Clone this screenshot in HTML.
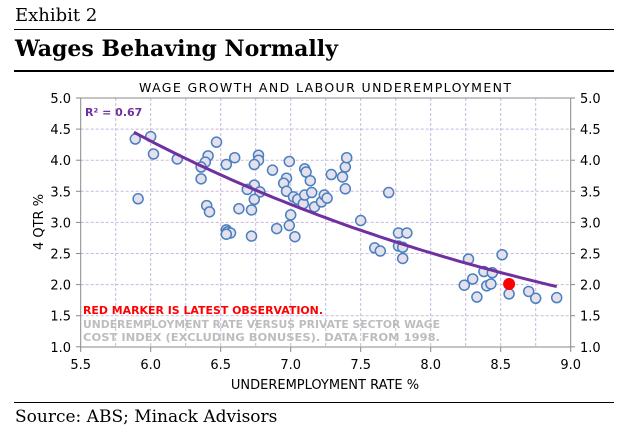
<!DOCTYPE html>
<html><head><meta charset="utf-8"><style>
body{margin:0;background:#fff;width:628px;height:441px;overflow:hidden;position:relative;font-family:"DejaVu Sans",sans-serif}
.serif{font-family:"DejaVu Serif","Liberation Serif",serif;position:absolute;color:#000;white-space:nowrap}
.hr{position:absolute;left:14px;width:600px;background:#000}
</style></head><body>
<div class="serif" style="left:15px;top:5px;font-size:18px">Exhibit 2</div>
<div class="hr" style="top:29px;height:1px"></div>
<div class="serif" style="left:15px;top:36px;font-size:22px;font-weight:bold">Wages Behaving Normally</div>
<div class="hr" style="top:70px;height:2px"></div>
<div class="hr" style="top:402px;height:1px"></div>
<div class="serif" style="left:15px;top:407px;font-size:17px">Source: ABS; Minack Advisors</div>
<svg id="chart" width="628" height="441" style="position:absolute;left:0;top:0" font-family="DejaVu Sans, sans-serif"></svg>
<script>
const xTicks=[5.5,6.0,6.5,7.0,7.5,8.0,8.5,9.0];
const yTicks=[1.0,1.5,2.0,2.5,3.0,3.5,4.0,4.5,5.0];
const underemp=[5.89,6.00,6.02,5.91,6.19,6.47,6.41,6.39,6.36,6.36,6.40,6.42,6.54,6.60,6.54,6.55,6.57,6.54,6.63,6.77,6.77,6.74,6.87,6.74,6.69,6.78,6.74,6.72,6.72,6.90,6.99,6.97,6.95,6.97,7.02,7.05,7.09,7.00,6.99,7.03,7.10,7.11,7.14,7.10,7.15,7.17,7.22,7.24,7.26,7.29,7.37,7.39,7.40,7.39,7.70,7.50,7.60,7.64,7.77,7.83,7.77,7.80,7.80,8.27,8.24,8.30,8.33,8.38,8.44,8.40,8.43,8.51,8.56,8.70,8.75,8.90];
const wages=[4.34,4.38,4.10,3.38,4.02,4.29,4.07,3.97,3.89,3.70,3.27,3.17,3.93,4.04,2.88,2.85,2.83,2.81,3.22,4.08,4.00,3.93,3.84,3.60,3.53,3.49,3.37,3.20,2.78,2.90,3.98,3.71,3.63,3.50,3.41,3.37,3.30,3.12,2.95,2.77,3.86,3.81,3.67,3.44,3.48,3.25,3.33,3.44,3.39,3.77,3.73,3.89,4.04,3.54,3.48,3.03,2.59,2.54,2.83,2.83,2.62,2.60,2.42,2.41,1.99,2.09,1.80,2.21,2.19,1.98,2.01,2.48,1.85,1.89,1.78,1.79];
const latest=[8.56,2.01];
const trendCoef=[4.45,-0.27,5.88]; // y = a*exp(b*(x-x0))
const trendRange=[5.88,8.90];
const X=v=>80.7+(v-5.5)*140, Y=v=>98+(5-v)*62.2;
const svg=document.getElementById('chart'),NS='http://www.w3.org/2000/svg';
function mk(t,a,txt){const e=document.createElementNS(NS,t);for(const k in a)e.setAttribute(k,a[k]);if(txt!=null)e.textContent=txt;svg.appendChild(e);return e;}
for(let v=5.75;v<9;v+=0.25){const g=mk('line',{x1:X(v),x2:X(v),y1:98,y2:347,stroke:'#c9b8dc','stroke-dasharray':'3,2'});}
for(let v=1.5;v<5;v+=0.5){const g=mk('line',{x1:80.7,x2:570.7,y1:Y(v),y2:Y(v),stroke:'#c9b8dc','stroke-dasharray':'3,2'});}
let e=mk('rect',{x:80.7,y:98,width:490,height:249,fill:'none',stroke:'#888'});
xTicks.forEach(v=>{const t=mk('text',{x:X(v),y:369,'text-anchor':'middle','font-size':13},v.toFixed(1));mk('line',{x1:X(v),x2:X(v),y1:347,y2:352,stroke:'#888'});});
yTicks.forEach(v=>{const t=mk('text',{x:71,y:Y(v)+5,'text-anchor':'end','font-size':13},v.toFixed(1));const r=mk('text',{x:580,y:Y(v)+5,'font-size':13},v.toFixed(1));mk('line',{x1:76,x2:80.7,y1:Y(v),y2:Y(v),stroke:'#888'});mk('line',{x1:570.7,x2:575,y1:Y(v),y2:Y(v),stroke:'#888'});});
underemp.forEach((u,i)=>{const c=mk('circle',{cx:X(u),cy:Y(wages[i]),r:5,fill:'#e4e0ec',stroke:'#4a7fc0','stroke-width':1.5});});
let d='';for(let k=0;k<=60;k++){const x=trendRange[0]+(trendRange[1]-trendRange[0])*k/60;const y=trendCoef[0]*Math.exp(trendCoef[1]*(x-trendCoef[2]));d+=(k?'L':'M')+X(x).toFixed(1)+','+Y(y).toFixed(1);}
e=mk('path',{d:d,fill:'none',stroke:'#7030a0','stroke-width':3});
e=mk('circle',{cx:X(latest[0]),cy:Y(latest[1]),r:5.5,fill:'#ff0000',stroke:'#ff0000'});
e=mk('text',{x:325,y:92,'text-anchor':'middle','font-size':12.5,textLength:372,lengthAdjust:'spacing'},'WAGE GROWTH AND LABOUR UNDEREMPLOYMENT');
e=mk('text',{x:85,y:116,'font-size':11,'font-weight':'bold',fill:'#7030a0'},'R² = 0.67');
e=mk('text',{x:83,y:314,'font-size':11,'font-weight':'bold',fill:'#ff0000',textLength:240,lengthAdjust:'spacingAndGlyphs'},'RED MARKER IS LATEST OBSERVATION.');
e=mk('text',{x:83,y:328,'font-size':11,'font-weight':'bold',fill:'#bdbdbd',textLength:357,lengthAdjust:'spacingAndGlyphs'},'UNDEREMPLOYMENT RATE VERSUS PRIVATE SECTOR WAGE');
e=mk('text',{x:83,y:341,'font-size':11,'font-weight':'bold',fill:'#bdbdbd','xml:space':'preserve',textLength:357,lengthAdjust:'spacingAndGlyphs'},'COST INDEX (EXCLUDING BONUSES).  DATA FROM 1998.');
e=mk('text',{x:325,y:389,'text-anchor':'middle','font-size':13},'UNDEREMPLOYMENT RATE %');
e=mk('text',{x:0,y:0,'text-anchor':'middle','font-size':13,transform:'translate(43,222) rotate(-90)'},'4 QTR %');
</script>
</body></html>
